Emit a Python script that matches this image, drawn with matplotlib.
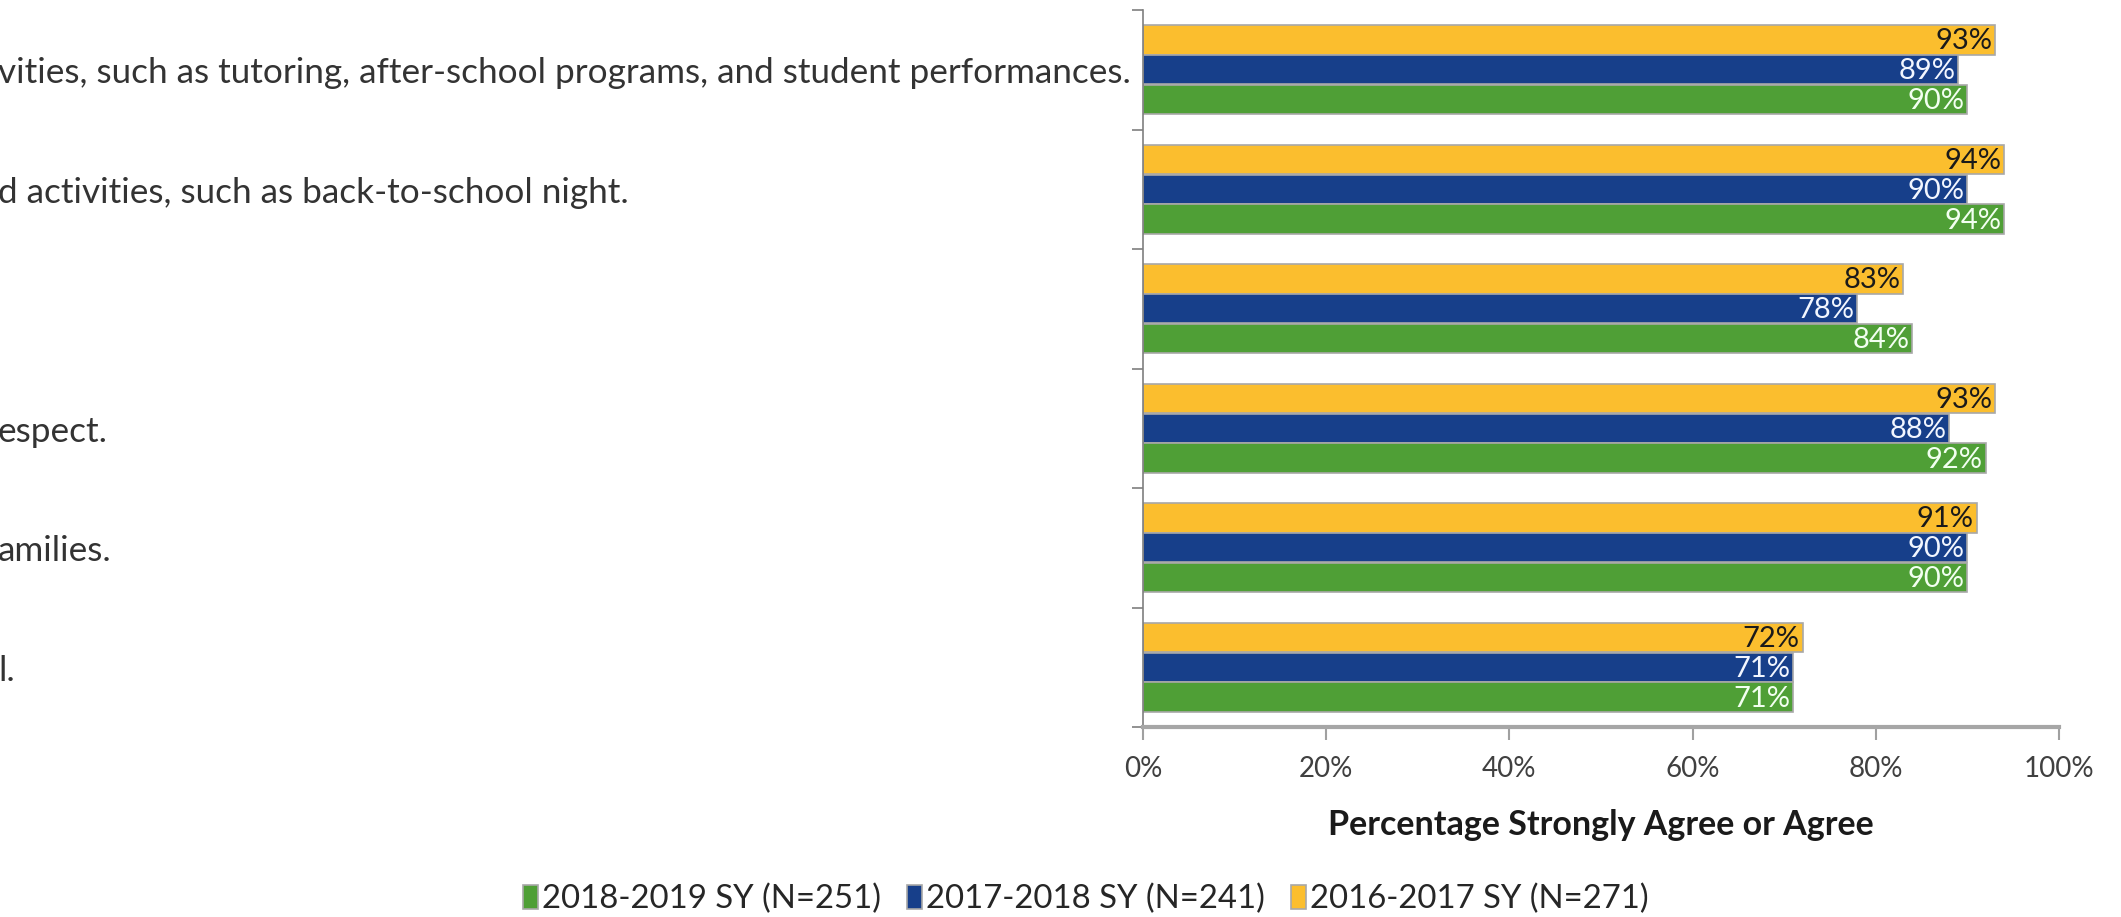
import matplotlib
matplotlib.use("Agg")
import matplotlib.pyplot as plt
import matplotlib.transforms as mtransforms
from matplotlib.ticker import PercentFormatter
import numpy as np

plt.rcParams['font.family'] = ['Lato', 'DejaVu Sans']

# visible (cropped) ends of the statement labels, top to bottom
labels = [
    "vities, such as tutoring, after-school programs, and student performances.",
    "d activities, such as back-to-school night.",
    "",
    "espect.",
    "amilies.",
    "l.",
]
years = ["2018-2019 SY (N=251)", "2017-2018 SY (N=241)", "2016-2017 SY (N=271)"]
sy_2018_19 = [0.90, 0.94, 0.84, 0.92, 0.90, 0.71]
sy_2017_18 = [0.89, 0.90, 0.78, 0.88, 0.90, 0.71]
sy_2016_17 = [0.93, 0.94, 0.83, 0.93, 0.91, 0.72]
xticks = [0, 0.2, 0.4, 0.6, 0.8, 1.0]

green = '#4f9f36'
blue = '#173f8a'
yellow = '#fbbe2e'

fig = plt.figure(figsize=(21.21, 9.17), dpi=100)
W, H = 2121, 917
ax = fig.add_axes([1143 / W, 1 - 727 / H, (2059 - 1143) / W, (727 - 10) / H])

y = np.arange(len(labels))
h = 0.245
series = [
    (sy_2016_17, -0.25, yellow, '#1a1a1a', years[2]),
    (sy_2017_18, 0.0, blue, '#f2f6ff', years[1]),
    (sy_2018_19, 0.25, green, '#f2fff0', years[0]),
]
handles = {}
for vals, off, col, tcol, name in series:
    bars = ax.barh(y + off, vals, height=h, color=col, edgecolor='#a8a8a8',
                   linewidth=1.2, label=name)
    handles[name] = bars
    for yy, v in zip(y + off, vals):
        ax.annotate(f"{v:.0%}", (v, yy), xytext=(-2, -1), textcoords='offset points',
                    ha='right', va='center', fontsize=21, color=tcol)

ax.set_xlim(0, 1)
ax.set_ylim(len(labels) - 0.5, -0.5)
ax.set_xticks(xticks)
ax.xaxis.set_major_formatter(PercentFormatter(1.0, decimals=0))
ax.tick_params(axis='x', direction='out', length=9, width=1.5, color='#a0a0a0',
               labelsize=20, labelcolor='#404040', pad=12)
ax.set_yticks(np.arange(len(labels) + 1) - 0.5)
ax.set_yticklabels([])
ax.tick_params(axis='y', direction='out', length=8, width=1.2, color='#7f7f7f')

for s in ['top', 'right']:
    ax.spines[s].set_visible(False)
ax.spines['left'].set_color('#7f7f7f')
ax.spines['left'].set_linewidth(1.2)
ax.spines['bottom'].set_color('#a6a6a6')
ax.spines['bottom'].set_linewidth(3)

ax.set_xlabel("Percentage Strongly Agree or Agree", fontsize=24.5, fontweight='bold',
              color='#1a1a1a', labelpad=19)

# statement labels, cut off by the left edge of the image
trans = mtransforms.blended_transform_factory(fig.transFigure, ax.transData)
for yy, lab in zip(y, labels):
    fig.text(-0.001, yy + 0.03, lab, transform=trans, ha='left', va='center',
             fontsize=25.3, color='#333333')

fig.legend([handles[n] for n in years], years, loc='center', bbox_to_anchor=(0.512, 1 - 899 / H),
           ncol=3, frameon=False, fontsize=23.7, handlelength=0.45, handleheight=0.75,
           handletextpad=0.12, columnspacing=0.8, labelcolor='#262626')

fig.savefig("out.png", dpi=100)
